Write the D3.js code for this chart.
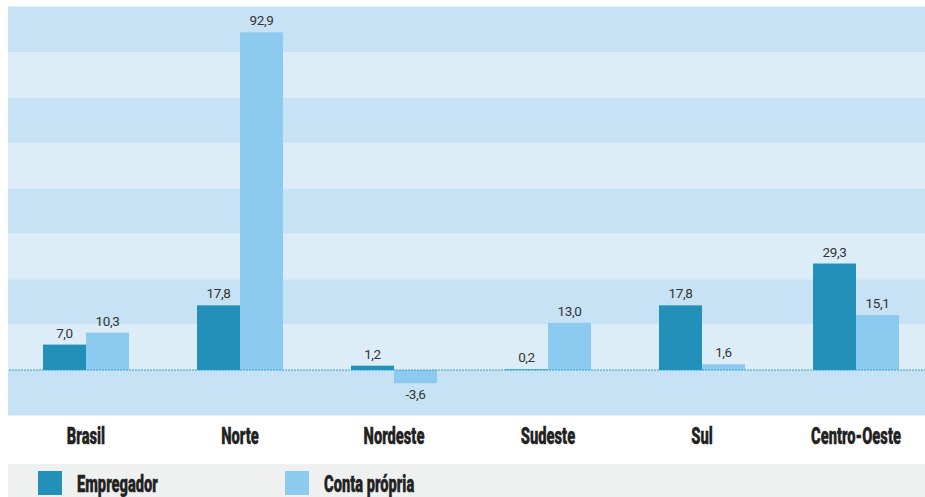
<!DOCTYPE html>
<html>
<head>
<meta charset="utf-8">
<script src="https://cdn.jsdelivr.net/npm/d3@7"></script>
<style>
  body { margin: 0; background: #fff; }
  svg { display: block; }
</style>
</head>
<body>
<div id="chart"></div>
<script>
const regions = ["Brasil", "Norte", "Nordeste", "Sudeste", "Sul", "Centro-Oeste"];
const series = ["Empregador", "Conta própria"];
const empregador = [7.0, 17.8, 1.2, 0.2, 17.8, 29.3];
const contaPropria = [10.3, 92.9, -3.6, 13.0, 1.6, 15.1];
const bandTicks = [-12.5, 0, 12.5, 25, 37.5, 50, 62.5, 75, 87.5, 100];

const width = 925, height = 497;
const plot = { left: 8, right: 925, top: 6.5, bottom: 415.5 };
const colors = { "Empregador": "#2290b8", "Conta própria": "#8dcaf0" };

const svg = d3.select("#chart").append("svg")
  .attr("width", width)
  .attr("height", height);

const y = d3.scaleLinear().domain([-12.5, 100]).range([plot.bottom, plot.top]);

const x0 = d3.scaleBand()
  .domain(regions)
  .range([9, 933])
  .paddingInner(0.4416)
  .paddingOuter(0.2208);

const x1 = d3.scaleBand()
  .domain(series)
  .range([0, x0.bandwidth()]);

// striped background
const bands = d3.pairs(bandTicks);
svg.append("g")
  .selectAll("rect")
  .data(bands)
  .join("rect")
  .attr("x", plot.left)
  .attr("width", plot.right - plot.left)
  .attr("y", d => y(d[1]))
  .attr("height", d => y(d[0]) - y(d[1]))
  .attr("fill", (d, i) => i % 2 === 0 ? "#c7e2f4" : "#ddedf8");

const data = regions.map((r, i) => ({
  region: r,
  values: [
    { key: "Empregador", value: empregador[i] },
    { key: "Conta própria", value: contaPropria[i] }
  ]
}));

const fmt = v => d3.format(".1f")(v).replace(".", ",").replace("−", "-");

const groups = svg.append("g")
  .selectAll("g")
  .data(data)
  .join("g")
  .attr("transform", d => `translate(${x0(d.region)},0)`);

groups.selectAll("rect")
  .data(d => d.values)
  .join("rect")
  .attr("x", d => x1(d.key))
  .attr("width", x1.bandwidth())
  .attr("y", d => y(Math.max(0, d.value)))
  .attr("height", d => Math.abs(y(d.value) - y(0)))
  .attr("fill", d => colors[d.key]);

groups.selectAll("text")
  .data(d => d.values)
  .join("text")
  .attr("x", d => x1(d.key) + x1.bandwidth() / 2)
  .attr("y", d => d.value >= 0 ? y(d.value) - 7 : y(d.value) + 16)
  .attr("text-anchor", "middle")
  .style("font-family", "Roboto, sans-serif")
  .style("font-size", "13.5px")
  .style("letter-spacing", "-0.4px")
  .style("fill", "#333")
  .text(d => fmt(d.value));

// zero line
svg.append("line")
  .attr("x1", 9)
  .attr("x2", plot.right)
  .attr("y1", y(0))
  .attr("y2", y(0))
  .attr("stroke", "#2a9fd6")
  .attr("stroke-width", 1)
  .attr("stroke-dasharray", "2,1");

// category labels, condensed by a horizontal squeeze
const condensed = (sel, size, squeeze) => sel
  .style("font-family", "Roboto, 'DejaVu Sans', sans-serif")
  .style("font-weight", "900")
  .style("font-size", size + "px")
  .style("fill", "#222")
  .style("stroke", "#222")
  .style("stroke-width", "0.4px")
  .attr("transform", function() {
    const cx = +this.getAttribute("data-x");
    return `translate(${cx},0) scale(${squeeze},1) translate(${-cx},0)`;
  });

svg.append("g")
  .selectAll("text")
  .data(regions)
  .join("text")
  .attr("data-x", d => x0(d) + x0.bandwidth() / 2)
  .attr("x", d => x0(d) + x0.bandwidth() / 2)
  .attr("y", 444)
  .attr("text-anchor", "middle")
  .text(d => d)
  .call(condensed, 24.5, 0.6);

// legend
svg.append("rect")
  .attr("x", plot.left)
  .attr("y", 464)
  .attr("width", plot.right - plot.left)
  .attr("height", height - 464)
  .attr("fill", "#eff0f0");

const legendX = [38, 285];
const legend = svg.append("g")
  .selectAll("g")
  .data(series)
  .join("g")
  .attr("transform", (d, i) => `translate(${legendX[i]},471)`);

legend.append("rect")
  .attr("width", 24)
  .attr("height", 24)
  .attr("fill", d => colors[d]);

legend.append("text")
  .attr("data-x", 39)
  .attr("x", 39)
  .attr("y", 21)
  .text(d => d)
  .call(condensed, 24.5, 0.6);
</script>
</body>
</html>
